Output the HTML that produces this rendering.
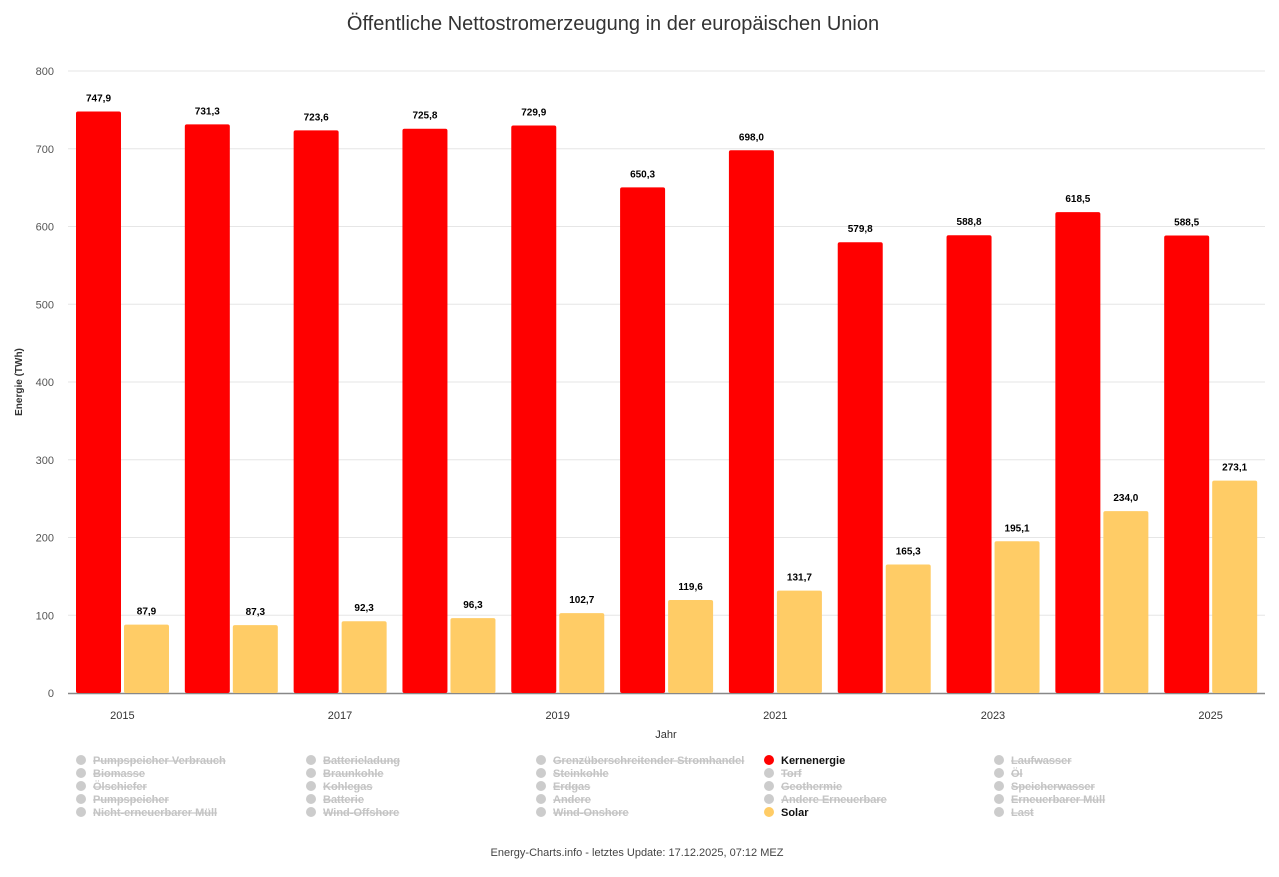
<!DOCTYPE html>
<html><head><meta charset="utf-8"><style>
body{margin:0;background:#fff;font-family:"Liberation Sans",sans-serif;}
svg text{font-family:"Liberation Sans","DejaVu Sans",sans-serif;}
</style></head><body>
<svg id="c" width="1279" height="872" xmlns="http://www.w3.org/2000/svg">
<text x="613" y="30" text-anchor="middle" font-size="20" fill="#333">Öffentliche Nettostromerzeugung in der europäischen Union</text>
<g id="grid"></g><g id="bars"></g>
<text x="22" y="382" transform="rotate(-90 22 382)" text-anchor="middle" font-size="10" font-weight="bold" fill="#333">Energie (TWh)</text>
<text x="666" y="738" text-anchor="middle" font-size="11" fill="#333">Jahr</text>
<g id="legend"></g>
<text x="637" y="856" text-anchor="middle" font-size="11" fill="#444">Energy-Charts.info - letztes Update: 17.12.2025, 07:12 MEZ</text>
</svg>
<script>
const years=["2015","2016","2017","2018","2019","2020","2021","2022","2023","2024","2025"];
const nuclear=[747.9,731.3,723.6,725.8,729.9,650.3,698.0,579.8,588.8,618.5,588.5];
const solar=[87.9,87.3,92.3,96.3,102.7,119.6,131.7,165.3,195.1,234.0,273.1];
const yTicks=[0,100,200,300,400,500,600,700,800];
const legendItems=[
["Pumpspeicher Verbrauch","Biomasse","Ölschiefer","Pumpspeicher","Nicht-erneuerbarer Müll"],
["Batterieladung","Braunkohle","Kohlegas","Batterie","Wind-Offshore"],
["Grenzüberschreitender Stromhandel","Steinkohle","Erdgas","Andere","Wind-Onshore"],
["Kernenergie","Torf","Geothermie","Andere Erneuerbare","Solar"],
["Laufwasser","Öl","Speicherwasser","Erneuerbarer Müll","Last"]];
const active={"Kernenergie":"#ff0000","Solar":"#ffcc66"};
const NS="http://www.w3.org/2000/svg";
const X0=68,X1=1265,Y0=693,Y800=71;
const y=v=>Y0-(v/800)*(Y0-Y800);
const cw=(X1-X0)/years.length;
function mk(t,a,p){const e=document.createElementNS(NS,t);for(const k in a)e.setAttribute(k,a[k]);p.appendChild(e);return e;}
const g=document.getElementById('grid');
yTicks.forEach(t=>{
 if(t>0){const l=mk('line',{x1:X0,x2:X1,y1:y(t),y2:y(t),stroke:'#e6e6e6'},g);
 
 }
 const tx=mk('text',{x:54,y:y(t)+4,'text-anchor':'end','font-size':11,fill:'#555'},g);tx.textContent=t;
 
 
});
const ax=mk('line',{x1:X0,x2:X1,y1:Y0+0.5,y2:Y0+0.5,stroke:'#888','stroke-width':1.5},g);


const b=document.getElementById('bars');
function lbl(x,v,name){const t=mk('text',{x:x,y:y(v)-10,'text-anchor':'middle','font-size':10,'font-weight':'bold',fill:'#000'},b);t.textContent=v.toFixed(1).replace('.',',');
 
 }
years.forEach((yr,i)=>{
 const cx=X0+i*cw, bw=45;
 const r1=mk('rect',{x:cx+8,y:y(nuclear[i]),width:bw,height:Y0-y(nuclear[i]),rx:2,fill:'#ff0000'},b);
 
 
 const r2=mk('rect',{x:cx+56,y:y(solar[i]),width:bw,height:Y0-y(solar[i]),rx:2,fill:'#ffcc66'},b);
 
 
 lbl(cx+8+bw/2,nuclear[i],'label-kernenergie-'+yr);
 lbl(cx+56+bw/2,solar[i],'label-solar-'+yr);
 if(i%2==0){const t=mk('text',{x:cx+cw/2,y:719,'text-anchor':'middle','font-size':11,fill:'#333'},b);t.textContent=yr;
 
 }
});
const lg=document.getElementById('legend');
const colX=[76,306,536,764,994];
legendItems.forEach((col,c)=>col.forEach((name,r)=>{
 const on=active[name];const yy=760+r*13;
 const gg=mk('g',{},lg);
 
 
 mk('circle',{cx:colX[c]+5,cy:yy,r:5,fill:on||'#cccccc'},gg);
 const t=mk('text',{x:colX[c]+17,y:yy+4,'font-size':11,'font-weight':'bold',fill:on?'#111':'#c4c4c4','text-decoration':on?'none':'line-through'},gg);
 t.textContent=name;
}));
</script>
</body></html>
